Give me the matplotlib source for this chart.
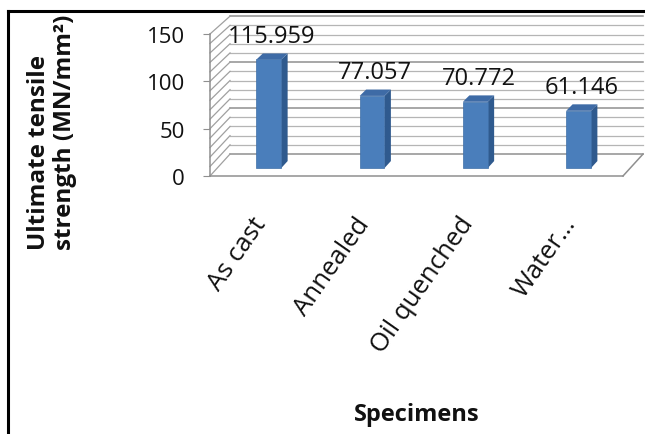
import matplotlib
matplotlib.use('Agg')
import matplotlib.pyplot as plt
from matplotlib.patches import Polygon
from matplotlib.lines import Line2D

plt.rcParams['font.family'] = ['Open Sans', 'DejaVu Sans']

# данные
specimens = ['As cast', 'Annealed', 'Oil quenched', 'Water\u2026']
uts = [115.959, 77.057, 70.772, 61.146]
y_ticks = [0, 50, 100, 150]

# параметры псевдо-3D проекции (глубина d от 0 - передняя плоскость до 1 - задняя стенка)
OX = 0.194      # сдвиг по x на всю глубину (в единицах категорий)
OY = 23.2       # сдвиг по y на всю глубину (в единицах оси)
SHRINK = 0.029  # уменьшение масштаба к задней стенке
D0, D1 = 0.36, 0.68   # глубина передней и задней грани столбиков
BAR_W = 0.24
X0, X1 = -0.5, 3.5
YMAX = 150


def proj(x, y, d):
    return (x + d * OX, y * (1 - d * SHRINK) + d * OY)


fig = plt.figure(figsize=(6.45, 4.35), dpi=100)
ax = fig.add_axes([210 / 645, 1 - 177 / 435, 413 / 645, 142 / 435])
ax.set_xlim(X0, X1)
ax.set_ylim(0, YMAX)

# задняя стенка
wall = [proj(X0, 0, 1), proj(X1, 0, 1), proj(X1, YMAX, 1), proj(X0, YMAX, 1)]
ax.add_patch(Polygon(wall, closed=True, facecolor='white', edgecolor='none', clip_on=False, zorder=1))

# линии сетки на задней и боковой стенках
for g in range(0, YMAX + 1, 10):
    col = '#8f8f8f' if g % 50 == 0 else '#b5b5b5'
    lw = 1.1 if g % 50 == 0 else 0.9
    xa, ya = proj(X0, g, 1)
    xb, yb = proj(X1, g, 1)
    ax.add_line(Line2D([xa, xb], [ya, yb], color=col, lw=lw, clip_on=False, zorder=2))
    xf, yf = proj(X0, g, 0)
    ax.add_line(Line2D([xf, xa], [yf, ya], color='#a0a0a0', lw=0.9, clip_on=False, zorder=2))

# правый край пола
xa, ya = proj(X1, 0, 0)
xb, yb = proj(X1, 0, 1)
ax.add_line(Line2D([xa, xb], [ya, yb], color='#8f8f8f', lw=1.1, clip_on=False, zorder=2))

# столбики: передняя грань, боковая и верхняя
front_x = [i + D0 * OX for i in range(len(uts))]
front_h = [v * (1 - D0 * SHRINK) for v in uts]
ax.bar(front_x, front_h, width=BAR_W, bottom=D0 * OY, color='#4a7ebb',
       edgecolor='#3f6fa8', linewidth=0.5, clip_on=False, zorder=4)

for i, v in enumerate(uts):
    xl, xr = i - BAR_W / 2, i + BAR_W / 2
    side = [proj(xr, 0, D0), proj(xr, 0, D1), proj(xr, v, D1), proj(xr, v, D0)]
    top = [proj(xl, v, D0), proj(xr, v, D0), proj(xr, v, D1), proj(xl, v, D1)]
    ax.add_patch(Polygon(side, closed=True, facecolor='#2f5a8e', edgecolor='none', clip_on=False, zorder=3))
    ax.add_patch(Polygon(top, closed=True, facecolor='#3e6ba6', edgecolor='none', clip_on=False, zorder=3))
    ax.annotate(f'{v:.3f}', xy=proj(i, v, (D0 + D1) / 2), xytext=(0, 15), textcoords='offset points',
                ha='center', va='center', fontsize=17, color='#111111', zorder=6, annotation_clip=False)

# оси
for s in ['top', 'right']:
    ax.spines[s].set_visible(False)
for s in ['left', 'bottom']:
    ax.spines[s].set_color('#8f8f8f')
    ax.spines[s].set_linewidth(1.1)
    ax.spines[s].set_zorder(5)
ax.set_facecolor('none')

ax.set_yticks(y_ticks)
ax.set_yticklabels([str(t) for t in y_ticks], fontsize=16, color='#111111')
ax.tick_params(axis='y', length=5, color='#8f8f8f', pad=13)

ax.set_xticks(range(len(specimens)))
ax.set_xticklabels(specimens, fontsize=18.5, rotation=55, ha='right', va='center',
                   rotation_mode='anchor', color='#111111')
ax.tick_params(axis='x', length=0, pad=31)

fig.text(52 / 645, 1 - 250 / 435, 'Ultimate tensile\nstrength (MN/mm\u00b2)', rotation=90,
         ha='center', va='bottom', multialignment='left', linespacing=1.1,
         fontsize=17.5, fontweight='bold', color='#111111')
fig.text(417 / 645, 1 - 415 / 435, 'Specimens', ha='center', va='center',
         fontsize=17, fontweight='bold', color='#111111')

# рамка
fig.add_artist(Line2D([8 / 645, 1], [1 - 12 / 435, 1 - 12 / 435], color='black', lw=2.2,
                      transform=fig.transFigure))
fig.add_artist(Line2D([8 / 645, 8 / 645], [0, 1 - 12 / 435], color='black', lw=2.2,
                      transform=fig.transFigure))

fig.savefig('out.png', dpi=100)
